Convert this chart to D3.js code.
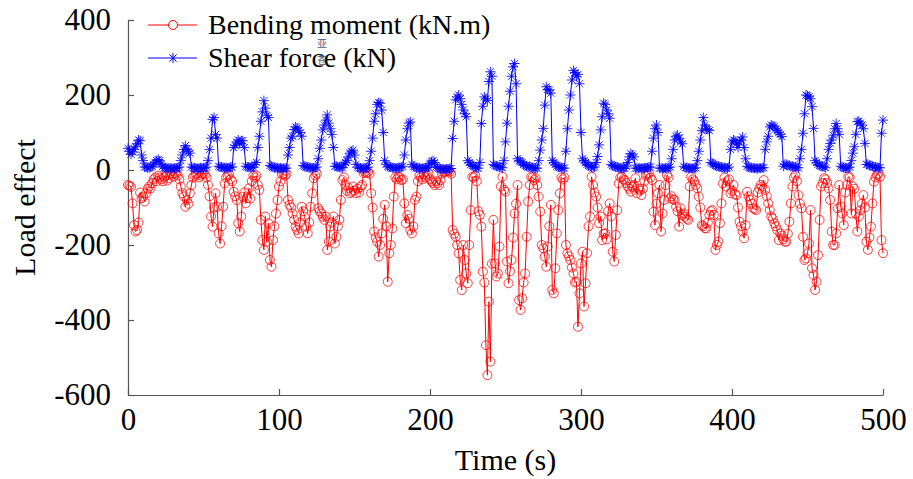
<!DOCTYPE html>
<html>
<head>
<meta charset="utf-8">
<script src="https://cdn.jsdelivr.net/npm/d3@7"></script>
<style>
  body { margin: 0; background: #fff; }
  svg { display: block; font-family: "Liberation Serif", "Times New Roman", serif; }
</style>
</head>
<body>
<svg id="chart" width="913" height="479"></svg>
<script>
// time stamps (s) - one reading per second
var timeSec = d3.range(0, 501);

// bending moment (kN.m)
var bendingMoment = [
  -40, -42, -45, -89, -147, -164, -160, -140, -60, -75,
  -71, -84, -62, -50, -44, -49, -35, -25, -20, -30,
  -15, -20, -25, -30, -20, -15, -28, -22, -10, -12,
  -18, -8, -10, -15, -25, -44, -62, -70, -98, -80,
  -90, -62, -40, -20, -15, -10, -12, -20, -15, -10,
  -8, -12, -20, -40, -70, -124, -151, -100, -62, -98,
  -169, -196, -150, -98, -36, -20, -15, -12, -25, -30,
  -58, -70, -80, -142, -164, -124, -71, -60, -89, -75,
  -49, -76, -30, -15, -20, -15, -40, -53, -133, -187,
  -213, -124, -191, -142, -240, -258, -187, -150, -116, -80,
  -44, -30, -12, -10, -15, -10, -80, -93, -100, -116,
  -133, -151, -160, -169, -140, -98, -110, -124, -151, -169,
  -140, -98, -62, -22, -15, -10, -102, -110, -116, -125,
  -133, -124, -213, -191, -151, -140, -124, -196, -178, -150,
  -133, -80, -27, -20, -40, -55, -48, -62, -58, -44,
  -55, -62, -50, -60, -45, -40, -8, -5, -8, -5,
  -10, -62, -100, -164, -180, -191, -231, -200, -169, -130,
  -93, -150, -298, -222, -200, -156, -71, -20, -25, -18,
  -20, -27, -25, -89, -142, -120, -130, -160, -169, -151,
  -80, -71, -30, -15, -20, -25, -10, -20, -15, -10,
  -25, -30, -35, -40, -30, -35, -40, -27, -10, -5,
  -5, -3, -3, -5, -10, -160, -170, -178, -200, -222,
  -293, -320, -200, -240, -276, -302, -200, -107, -18, -20,
  -15, -30, -110, -120, -151, -271, -300, -467, -547, -351,
  -511, -250, -133, -249, -284, -276, -204, -44, -18, -53,
  -58, -244, -302, -270, -240, -180, -116, -90, -40, -347,
  -373, -342, -300, -276, -178, -84, -40, -18, -20, -27,
  -22, -40, -71, -111, -200, -209, -231, -258, -204, -150,
  -93, -320, -329, -262, -169, -107, -62, -20, -25, -20,
  -200, -222, -230, -240, -260, -276, -300, -298, -418, -329,
  -249, -218, -364, -302, -222, -150, -124, -18, -40, -60,
  -71, -100, -142, -124, -187, -170, -169, -185, -110, -89,
  -124, -218, -244, -173, -107, -36, -20, -18, -25, -27,
  -35, -44, -50, -58, -45, -40, -22, -62, -50, -55,
  -67, -50, -30, -15, -12, -9, -20, -27, -111, -147,
  -90, -62, -40, -164, -116, -80, -40, -13, -20, -76,
  -70, -78, -80, -98, -110, -151, -102, -120, -116, -125,
  -130, -133, -44, -18, -25, -30, -40, -49, -71, -100,
  -147, -150, -155, -156, -140, -120, -110, -107, -120, -213,
  -200, -191, -142, -89, -36, -20, -44, -30, -25, -62,
  -55, -40, -65, -67, -100, -138, -150, -164, -182, -147,
  -58, -70, -80, -90, -102, -104, -107, -60, -50, -40,
  -44, -27, -53, -70, -89, -107, -124, -130, -142, -150,
  -160, -187, -169, -175, -185, -191, -191, -170, -138, -89,
  -44, -20, -13, -30, -67, -90, -102, -178, -240, -236,
  -222, -196, -107, -262, -280, -320, -298, -227, -133, -44,
  -35, -22, -25, -35, -49, -80, -164, -200, -200, -169,
  -102, -40, -98, -116, -147, -60, -40, -18, -20, -116,
  -44, -50, -116, -164, -124, -107, -90, -67, -100, -191,
  -213, -180, -151, -89, -31, -20, -13, -10, -18, -187,
  -222
];

// shear force (kN)
var shearForce = [
  58, 50, 42, 48, 55, 62, 70, 80, 78, 40,
  25, 8, 8, 6, 6, 8, 10, 15, 20, 25,
  28, 25, 15, 10, 6, 5, 4, 5, 5, 4,
  4, 5, 5, 6, 8, 25, 40, 55, 65, 55,
  50, 45, 8, 6, 5, 4, 4, 5, 6, 5,
  5, 6, 8, 25, 55, 85, 135, 140, 95, 85,
  10, 8, 8, 6, 6, 5, 5, 6, 8, 8,
  60, 65, 75, 80, 70, 78, 78, 60, 10, 8,
  8, 6, 6, 8, 15, 20, 60, 90, 130, 155,
  185, 165, 145, 140, 12, 10, 8, 6, 6, 5,
  5, 5, 4, 4, 5, 5, 40, 60, 85, 90,
  108, 115, 112, 105, 100, 90, 12, 10, 8, 8,
  6, 6, 5, 5, 6, 8, 30, 58, 80, 107,
  120, 133, 147, 125, 110, 95, 60, 10, 10, 8,
  8, 6, 6, 15, 20, 25, 35, 45, 50, 53,
  40, 15, 8, 5, 5, 4, 4, 5, 6, 8,
  25, 50, 85, 130, 150, 175, 180, 178, 160, 100,
  25, 15, 10, 8, 8, 6, 6, 5, 5, 6,
  6, 8, 10, 40, 80, 110, 125, 128, 15, 10,
  8, 6, 5, 5, 4, 4, 5, 5, 6, 8,
  18, 22, 25, 20, 8, 6, 4, 3, 3, 2,
  2, 3, 3, 4, 4, 84, 130, 187, 195, 200,
  190, 175, 160, 150, 142, 25, 20, 15, 12, 10,
  8, 5, 5, 20, 124, 170, 195, 190, 185, 236,
  262, 250, 15, 12, 10, 10, 8, 8, 6, 25,
  75, 125, 170, 210, 250, 275, 284, 230, 30, 25,
  22, 20, 15, 12, 10, 8, 10, 8, 6, 5,
  5, 5, 25, 53, 80, 111, 173, 222, 215, 213,
  205, 25, 20, 15, 10, 8, 8, 6, 5, 5,
  50, 110, 160, 200, 240, 265, 260, 250, 255, 230,
  100, 30, 25, 20, 15, 12, 10, 8, 6, 8,
  20, 36, 67, 107, 142, 178, 175, 160, 150, 138,
  15, 12, 10, 8, 8, 6, 5, 5, 4, 5,
  10, 20, 35, 44, 40, 35, 5, 5, 4, 5,
  4, 5, 5, 6, 6, 8, 8, 50, 85, 110,
  120, 100, 5, 5, 4, 4, 5, 5, 6, 8,
  30, 55, 80, 90, 93, 85, 75, 70, 10, 6,
  6, 5, 5, 4, 4, 5, 6, 25, 50, 80,
  105, 140, 120, 110, 108, 105, 20, 18, 15, 12,
  10, 10, 8, 8, 6, 6, 5, 5, 8, 55,
  75, 80, 78, 70, 60, 75, 80, 88, 60, 30,
  10, 8, 6, 6, 5, 5, 4, 4, 5, 5,
  6, 6, 55, 75, 90, 115, 120, 118, 115, 110,
  105, 100, 95, 89, 10, 15, 15, 12, 12, 10,
  10, 8, 8, 6, 6, 30, 55, 98, 150, 200,
  198, 195, 190, 169, 111, 25, 20, 15, 12, 10,
  10, 8, 6, 30, 55, 71, 80, 93, 110, 124,
  110, 95, 10, 8, 6, 5, 5, 6, 8, 25,
  45, 62, 95, 129, 130, 125, 120, 110, 71, 15,
  15, 12, 12, 10, 8, 8, 6, 6, 6, 98,
  133
];

var xTicks = [0, 100, 200, 300, 400, 500];
var yTicks = [400, 200, 0, -200, -400, -600];
var seriesNames = ["Bending moment (kN.m)", "Shear force (kN)"];
var seriesColors = ["#ff0000", "#0000ff"];

var svg = d3.select("#chart"),
    plotLeft = 128, plotRight = 883, plotTop = 20, plotBottom = 395;

var xScale = d3.scaleLinear().domain([0, 500]).range([plotLeft, plotRight]);
var yScale = d3.scaleLinear().domain([-600, 400]).range([plotBottom, plotTop]);

// axes, ticks pointing inward, plain hyphen for negatives
var xAxis = d3.axisBottom(xScale).tickValues(xTicks)
    .tickFormat(function(d) { return String(d); })
    .tickSizeInner(-6).tickSizeOuter(0).tickPadding(13);
var yAxis = d3.axisLeft(yScale).tickValues(yTicks)
    .tickFormat(function(d) { return String(d); })
    .tickSizeInner(-6).tickSizeOuter(0).tickPadding(17);

var gx = svg.append("g").attr("transform", "translate(0," + plotBottom + ")").call(xAxis);
var gy = svg.append("g").attr("transform", "translate(" + plotLeft + ",0)").call(yAxis);

[gx, gy].forEach(function(g) {
    g.selectAll("path, line").attr("stroke", "#555").attr("stroke-width", 1.2);
    g.selectAll("text").attr("fill", "#000")
        .style("font-family", "Liberation Serif, Times New Roman, serif")
        .style("font-size", "31px");
});

// axis titles
svg.append("text")
    .attr("x", (plotLeft + plotRight) / 2).attr("y", 470)
    .attr("text-anchor", "middle")
    .style("font-size", "30px")
    .text("Time (s)");

svg.append("text")
    .attr("transform", "translate(35," + ((plotTop + plotBottom) / 2) + ") rotate(-90)")
    .attr("text-anchor", "middle")
    .style("font-size", "30px")
    .text("Load effect");

var line = d3.line()
    .x(function(d, i) { return xScale(timeSec[i]); })
    .y(function(d) { return yScale(d); });

// star marker: plus and x laid over each other
function starPath(r, withBar) {
    var a = r * 0.72;
    var p = "M0," + (-r) + "V" + r +
        "M" + (-a) + "," + (-a) + "L" + a + "," + a +
        "M" + (-a) + "," + a + "L" + a + "," + (-a);
    if (withBar) p += "M" + (-r) + ",0H" + r;
    return p;
}

// bending moment: red line with open circles
var gBend = svg.append("g");
gBend.append("path")
    .datum(bendingMoment)
    .attr("d", line)
    .attr("fill", "none")
    .attr("stroke", seriesColors[0])
    .attr("stroke-width", 1);
gBend.selectAll("circle")
    .data(bendingMoment)
    .enter().append("circle")
    .attr("cx", function(d, i) { return xScale(timeSec[i]); })
    .attr("cy", function(d) { return yScale(d); })
    .attr("r", 4.5)
    .attr("fill", "none")
    .attr("stroke", seriesColors[0])
    .attr("stroke-opacity", 0.75)
    .attr("stroke-width", 1);

// shear force: blue line with stars
var gShear = svg.append("g");
gShear.append("path")
    .datum(shearForce)
    .attr("d", line)
    .attr("fill", "none")
    .attr("stroke", seriesColors[1])
    .attr("stroke-width", 1);
gShear.selectAll("path.star")
    .data(shearForce)
    .enter().append("path")
    .attr("class", "star")
    .attr("transform", function(d, i) { return "translate(" + xScale(timeSec[i]) + "," + yScale(d) + ")"; })
    .attr("d", starPath(5, true))
    .attr("fill", "none")
    .attr("stroke", seriesColors[1])
    .attr("stroke-opacity", 0.85)
    .attr("stroke-width", 1);

// legend (no frame)
var legend = svg.append("g");
var legendRows = [25, 58];
seriesNames.forEach(function(name, k) {
    var y = legendRows[k];
    legend.append("line")
        .attr("x1", 148).attr("x2", 197).attr("y1", y).attr("y2", y)
        .attr("stroke", seriesColors[k]).attr("stroke-width", 1);
    if (k === 0) {
        legend.append("circle").attr("cx", 173).attr("cy", y).attr("r", 4.5)
            .attr("fill", "#fff").attr("stroke", seriesColors[k]);
    } else {
        legend.append("path").attr("transform", "translate(173," + y + ")")
            .attr("d", starPath(5, false)).attr("fill", "none").attr("stroke", seriesColors[k]);
    }
    legend.append("text")
        .attr("x", 208).attr("y", y + 9)
        .style("font-size", "28px")
        .text(name);
});

// stray glyphs sitting over the legend text in the source image
legend.append("text").attr("x", 317).attr("y", 47)
    .style("font-family", "Noto Sans CJK SC").style("font-size", "10px")
    .attr("fill", "#4a5a8a").text("亚");
legend.append("text").attr("x", 317).attr("y", 64)
    .style("font-family", "Noto Sans CJK SC").style("font-size", "10px")
    .attr("fill", "#555").text("苍");
</script>
</body>
</html>
